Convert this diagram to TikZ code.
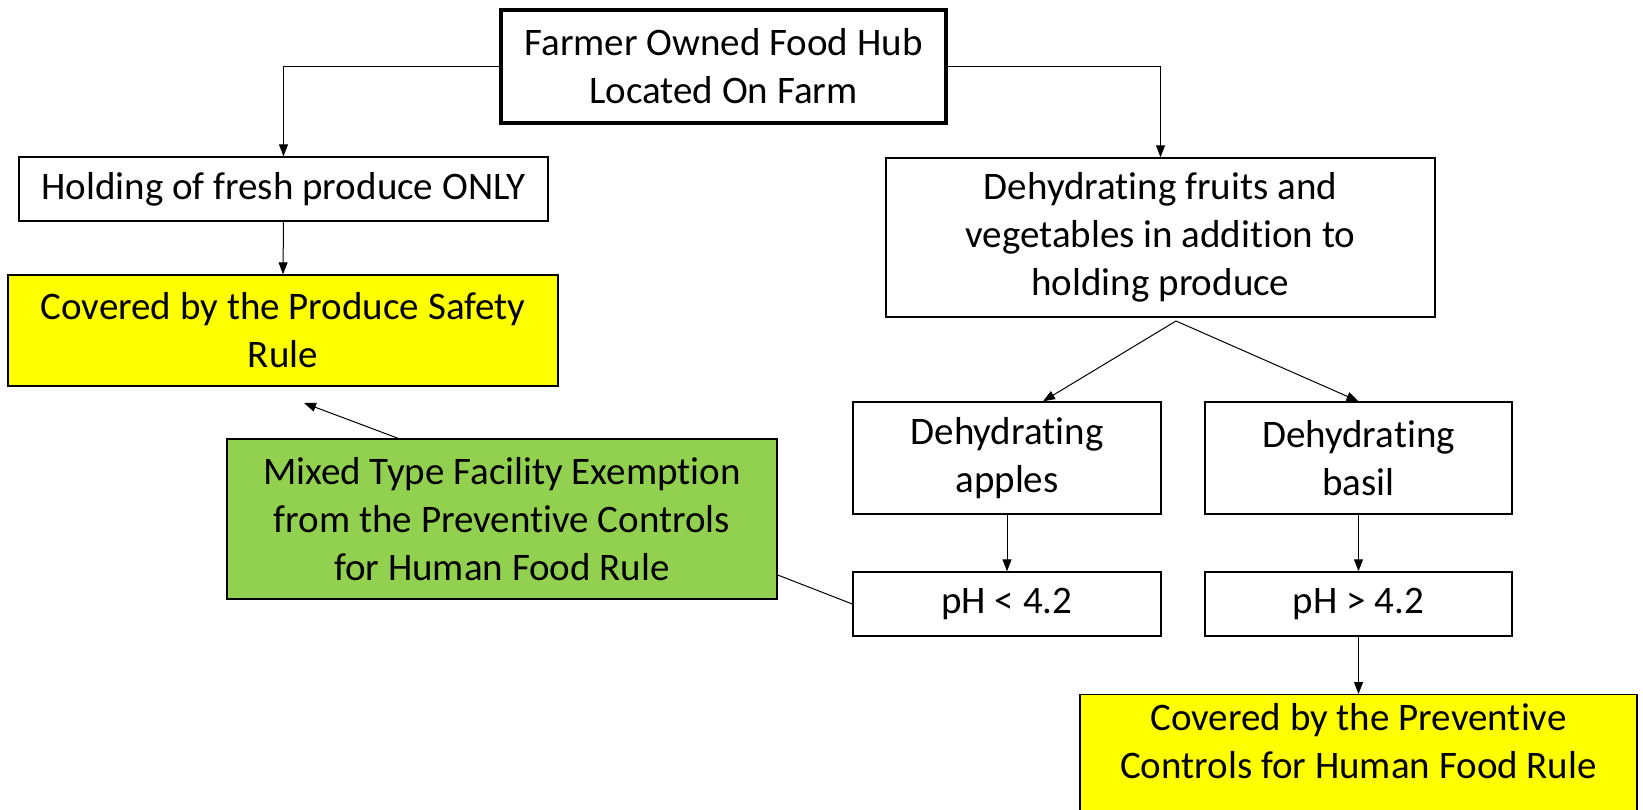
\documentclass[tikz,border=0pt]{standalone}
\usepackage{fontspec}
\setmainfont[RawFeature={-liga;-clig;-dlig;-calt}]{Carlito}
\usetikzlibrary{arrows.meta,calc}
\definecolor{ruleyellow}{HTML}{FFFF00}
\definecolor{exgreen}{HTML}{92D050}
\tikzset{
  txt/.style={align=center, font=\fontsize{39}{48}\selectfont},
  box/.style={txt, draw=black, line width=1.4pt, fill=white, inner sep=0pt},
  mainbox/.style={box, line width=3.2pt},
  yellowbox/.style={box, fill=ruleyellow},
  greenbox/.style={box, fill=exgreen},
  arr/.style={draw=black, line width=1pt, -{Triangle[length=12pt,width=9pt]}},
  plain/.style={draw=black, line width=1pt}
}
\begin{document}
\begin{tikzpicture}[x=1pt,y=-1pt]
\useasboundingbox (0,0) rectangle (1643,810);
\clip (0,0) rectangle (1643,810);

% boxes
\node[mainbox, minimum width=445, minimum height=113] (top) at (723.5,66.5)
  {Farmer Owned Food Hub\\Located On Farm};
\node[box, minimum width=529, minimum height=64] (hold) at (283.5,189)
  {Holding of fresh produce ONLY};
\node[yellowbox, minimum width=550, minimum height=111] (cps) at (283,330.5)
  {Covered by the Produce Safety\\Rule};
\node[box, minimum width=549, minimum height=159] (dehyd) at (1160.5,237.5)
  {Dehydrating fruits and\\vegetables in addition to\\holding produce};
\node[box, minimum width=308, minimum height=112] (apples) at (1007,458)
  {Dehydrating\\apples};
\node[box, minimum width=307, minimum height=112] (basil) at (1358.5,458)
  {Dehydrating\\basil};
\node[box, minimum width=308, minimum height=64] (phlo) at (1007,604)
  {pH < 4.2};
\node[box, minimum width=307, minimum height=64] (phhi) at (1358.5,604)
  {pH > 4.2};
\node[yellowbox, minimum width=557, minimum height=130, anchor=north] (cpc) at (1358.5,694)
  {};
\node[txt, anchor=north] at (1358.5,700)
  {Covered by the Preventive\\Controls for Human Food Rule};
\node[greenbox, minimum width=550, minimum height=160] (mixed) at (502,519)
  {Mixed Type Facility Exemption\\from the Preventive Controls\\for Human Food Rule};

% connectors
\coordinate (split) at (1176,321);
\coordinate (exfree) at (304,403);
\draw[arr] (top.west) -| (hold.north);
\draw[arr] (top.east) -| (dehyd.north);
\draw[arr] (hold.south) -- (cps.north);
\draw[arr] (split) -- ($(apples.north)+(36,0)$);
\draw[arr] (split) -- (basil.north);
\draw[arr] (apples.south) -- (phlo.north);
\draw[arr] (basil.south) -- (phhi.north);
\draw[arr] (phhi.south) -- (cpc.north);
\draw[arr] ($(mixed.north)+(-104,0)$) -- (exfree);
\draw[plain] ($(mixed.east)+(0,56)$) -- (phlo.west);
\end{tikzpicture}
\end{document}
